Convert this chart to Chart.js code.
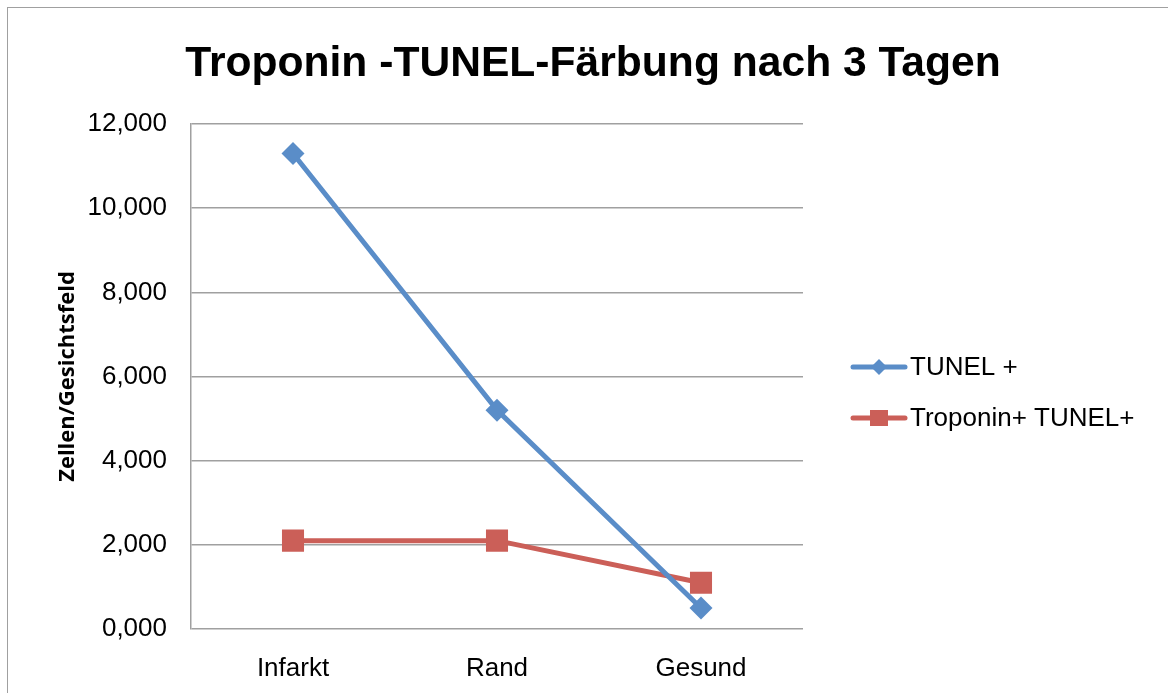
<!DOCTYPE html>
<html lang="de">
<head>
    <meta charset="UTF-8">
    <title>Troponin -TUNEL-Färbung nach 3 Tagen</title>
    <script src="https://cdn.jsdelivr.net/npm/chart.js"></script>
    <style>
        body {
            margin: 0;
            background: #ffffff;
            overflow: hidden;
        }
        .rahmen {
            position: absolute;
            left: 7px;
            top: 7px;
            width: 1300px;
            height: 800px;
            border-left: 1.5px solid #a0a0a0;
            border-top: 1.5px solid #a0a0a0;
        }
        .box {
            position: absolute;
            left: 0;
            top: 0;
            width: 1168px;
            height: 693px;
        }
    </style>
</head>
<body>
    <div class="rahmen"></div>
    <div class="box">
        <canvas id="grafik" width="1168" height="693"></canvas>
    </div>

    <script>
        // Daten
        const titel = 'Troponin -TUNEL-Färbung nach 3 Tagen';
        const kategorien = ['Infarkt', 'Rand', 'Gesund'];
        const tunel = [11.3, 5.2, 0.5];
        const troponinTunel = [2.1, 2.1, 1.1];
        const serienNamen = ['TUNEL +', 'Troponin+ TUNEL+'];
        const yTitel = 'Zellen/Gesichtsfeld';

        const blau = '#5a8dc8';
        const rot = '#cb5f58';
        const gitter = '#a0a0a0';

        // Titel und Legende selbst zeichnen (Excel-Stil: Linie mit Markierung)
        const excelDeko = {
            id: 'excelDeko',
            afterDraw(chart) {
                const ctx = chart.ctx;
                ctx.save();
                ctx.fillStyle = '#000';
                ctx.font = 'bold 42.6px "Liberation Sans", Arial, sans-serif';
                ctx.textAlign = 'center';
                ctx.textBaseline = 'alphabetic';
                ctx.fillText(titel, 593, 76);

                const x0 = 853, x1 = 905, xm = 879;
                chart.data.datasets.forEach((ds, i) => {
                    const y = 367 + i * 51;
                    ctx.strokeStyle = ds.borderColor;
                    ctx.lineWidth = 5;
                    ctx.lineCap = 'round';
                    ctx.beginPath();
                    ctx.moveTo(x0, y);
                    ctx.lineTo(x1, y);
                    ctx.stroke();
                    ctx.fillStyle = ds.backgroundColor;
                    ctx.beginPath();
                    if (ds.pointStyle === 'rectRot') {
                        ctx.moveTo(xm, y - 8);
                        ctx.lineTo(xm + 8, y);
                        ctx.lineTo(xm, y + 8);
                        ctx.lineTo(xm - 8, y);
                        ctx.closePath();
                    } else {
                        ctx.rect(xm - 9, y - 8, 18, 16);
                    }
                    ctx.fill();
                    ctx.fillStyle = '#000';
                    ctx.font = '26px "Liberation Sans", Arial, sans-serif';
                    ctx.textAlign = 'left';
                    ctx.textBaseline = 'middle';
                    ctx.fillText(ds.label, 910, y + 1);
                });
                ctx.restore();
            }
        };

        const ctx = document.getElementById('grafik').getContext('2d');
        new Chart(ctx, {
            type: 'line',
            data: {
                labels: kategorien,
                datasets: [{
                    label: serienNamen[0],
                    data: tunel,
                    borderColor: blau,
                    backgroundColor: blau,
                    borderWidth: 5,
                    pointStyle: 'rectRot',
                    pointRadius: 11.5,
                    pointBorderWidth: 0,
                    tension: 0
                }, {
                    label: serienNamen[1],
                    data: troponinTunel,
                    borderColor: rot,
                    backgroundColor: rot,
                    borderWidth: 5,
                    pointStyle: 'rect',
                    pointRadius: 15.6,
                    pointBorderWidth: 0,
                    tension: 0
                }]
            },
            options: {
                responsive: false,
                animation: false,
                layout: {
                    padding: { left: 0, top: 124, right: 365, bottom: 0 }
                },
                plugins: {
                    legend: { display: false },
                    title: { display: false },
                    tooltip: { enabled: false }
                },
                scales: {
                    x: {
                        offset: true,
                        grid: { display: false },
                        border: { display: false },
                        ticks: {
                            color: '#000',
                            padding: 16,
                            font: { family: '"Liberation Sans", Arial, sans-serif', size: 26 }
                        },
                        afterFit(scale) { scale.height = 64; }
                    },
                    y: {
                        min: 0,
                        max: 12,
                        ticks: {
                            stepSize: 2,
                            color: '#000',
                            padding: 24,
                            font: { family: '"Liberation Sans", Arial, sans-serif', size: 26 },
                            callback: v => v.toFixed(3).replace('.', ',')
                        },
                        grid: { color: gitter, lineWidth: 1.5, drawTicks: false },
                        border: { color: gitter, width: 1.5 },
                        title: {
                            display: true,
                            text: yTitel,
                            color: '#000',
                            padding: { top: 55, bottom: 0 },
                            font: { family: '"Open Sans", sans-serif', size: 22, weight: 'bold' }
                        },
                        afterFit(scale) { scale.width = 191; }
                    }
                }
            },
            plugins: [excelDeko]
        });
    </script>
</body>
</html>
